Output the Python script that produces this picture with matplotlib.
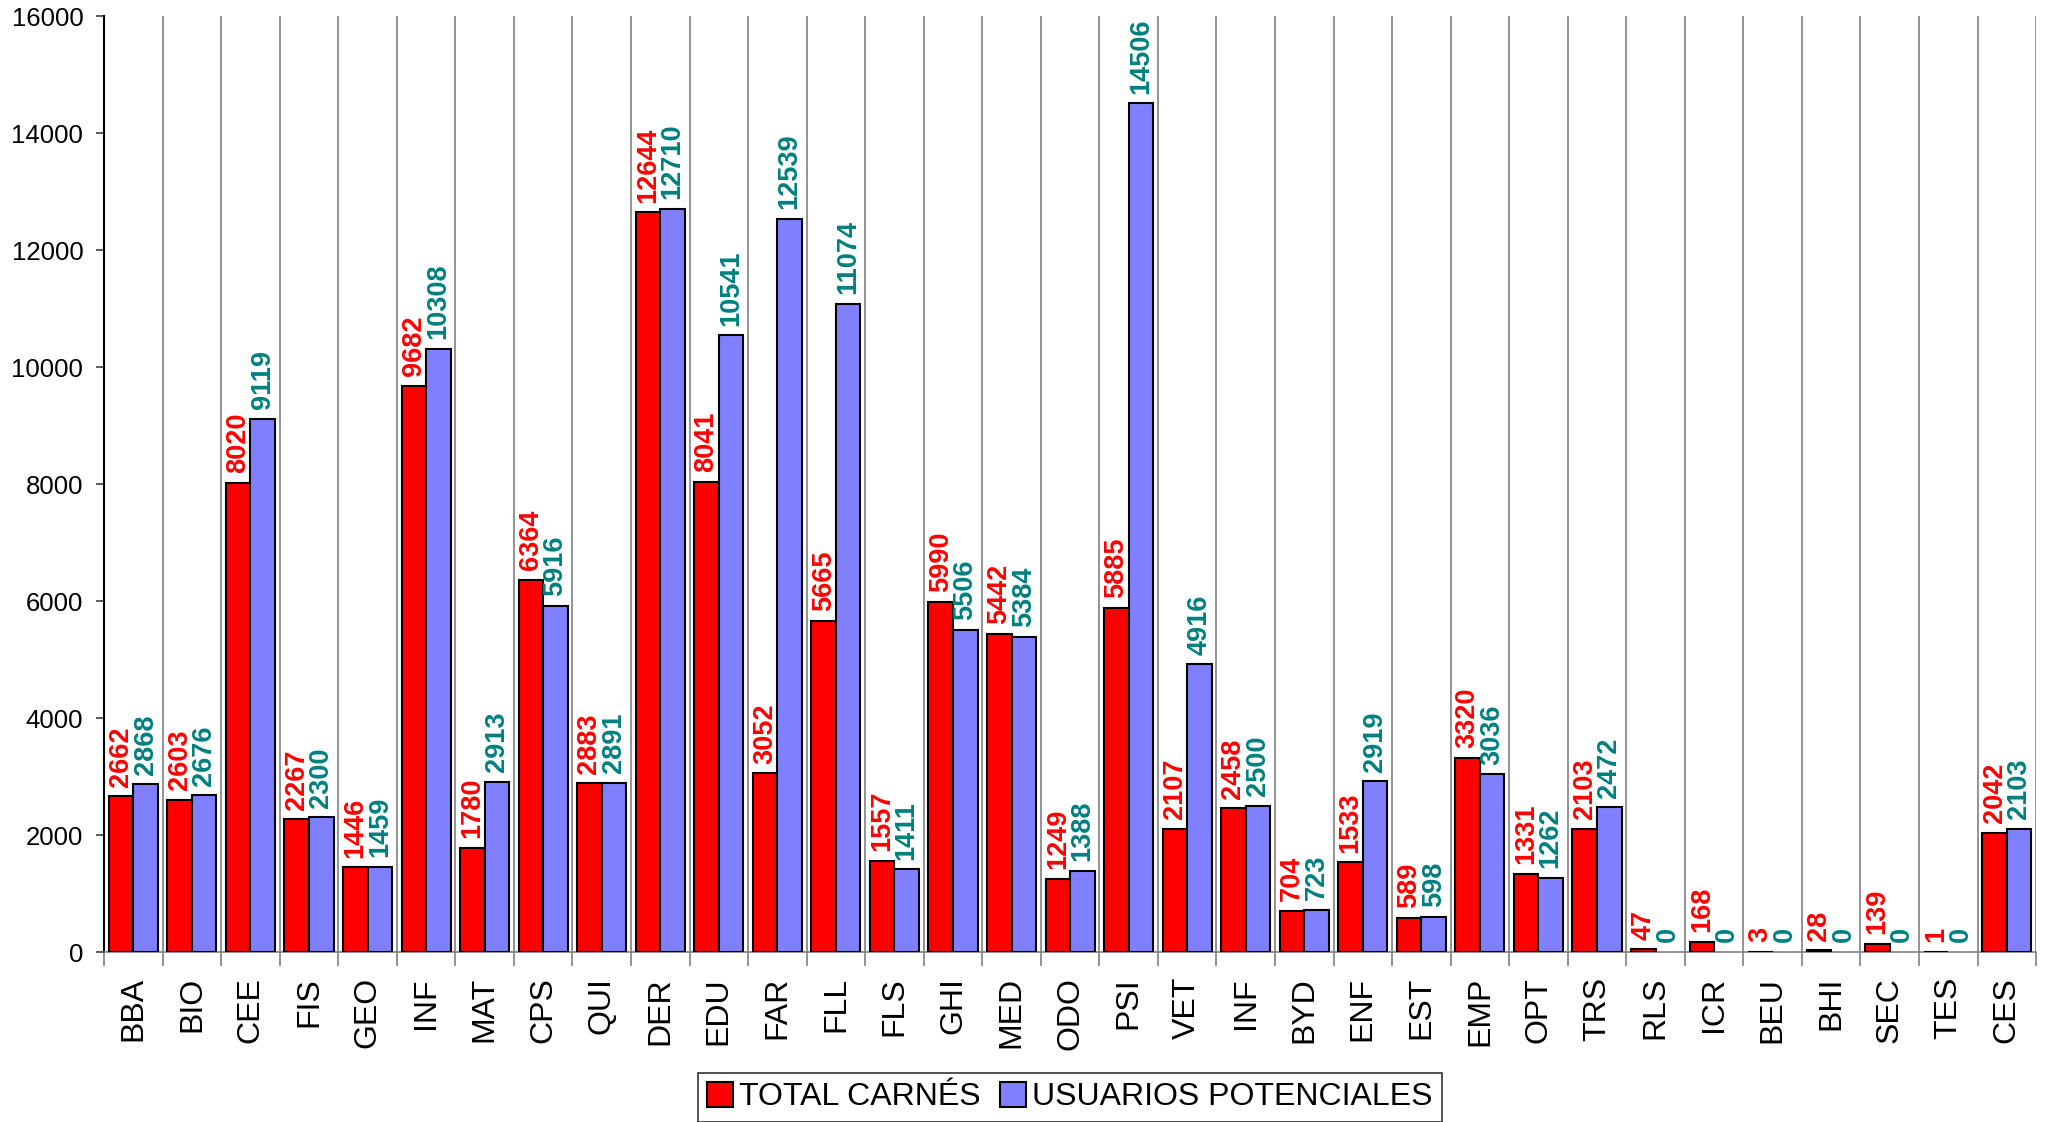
import numpy as np
import matplotlib
matplotlib.use("Agg")
import matplotlib.pyplot as plt

# Carnés frente a usuarios potenciales por centro
centros = ["BBA", "BIO", "CEE", "FIS", "GEO", "INF", "MAT", "CPS", "QUI", "DER",
           "EDU", "FAR", "FLL", "FLS", "GHI", "MED", "ODO", "PSI", "VET", "INF",
           "BYD", "ENF", "EST", "EMP", "OPT", "TRS", "RLS", "ICR", "BEU", "BHI",
           "SEC", "TES", "CES"]
total_carnes = [2662, 2603, 8020, 2267, 1446, 9682, 1780, 6364, 2883, 12644,
                8041, 3052, 5665, 1557, 5990, 5442, 1249, 5885, 2107, 2458,
                704, 1533, 589, 3320, 1331, 2103, 47, 168, 3, 28,
                139, 1, 2042]
usuarios_potenciales = [2868, 2676, 9119, 2300, 1459, 10308, 2913, 5916, 2891, 12710,
                        10541, 12539, 11074, 1411, 5506, 5384, 1388, 14506, 4916, 2500,
                        723, 2919, 598, 3036, 1262, 2472, 0, 0, 0, 0,
                        0, 0, 2103]
y_ticks = list(range(0, 16001, 2000))

plt.rcParams["font.family"] = ["Liberation Sans", "DejaVu Sans"]

fig = plt.figure(figsize=(20.49, 11.22), dpi=100)
ax = fig.add_axes([0.0508, 0.1515, 0.9429, 0.8342])

x = np.arange(len(centros))
w = 0.42
lw1 = [1.5 if v > 0 else 0 for v in total_carnes]
lw2 = [1.5 if v > 0 else 0 for v in usuarios_potenciales]
b1 = ax.bar(x - w / 2, total_carnes, w, color="#FF0000", edgecolor="black",
            linewidth=lw1, label="TOTAL CARNÉS", zorder=3)
b2 = ax.bar(x + w / 2, usuarios_potenciales, w, color="#8080FF", edgecolor="black",
            linewidth=lw2, label="USUARIOS POTENCIALES", zorder=3)

for bars, vals, col in [(b1, total_carnes, "#FF0000"), (b2, usuarios_potenciales, "#008080")]:
    for r, v in zip(bars, vals):
        ax.annotate(str(v), (r.get_x() + r.get_width() / 2, v),
                    xytext=(0, 7), textcoords="offset points",
                    rotation=90, ha="center", va="bottom",
                    fontsize=19.5, fontweight="bold", color=col)

ax.set_xlim(-0.5, len(centros) - 0.5)
ax.set_ylim(0, 16000)
ax.set_yticks(y_ticks)
ax.tick_params(axis="y", labelsize=18.5, length=6, width=1.2, pad=9, color="#404040")

ax.set_xticks(np.arange(len(centros) + 1) - 0.5)
ax.set_xticklabels([])
ax.set_xticks(x, minor=True)
ax.set_xticklabels(centros, minor=True, rotation=90, fontsize=23)
ax.tick_params(axis="x", which="major", length=10, width=1.2, color="#808080")
ax.tick_params(axis="x", which="minor", length=0, pad=18)
ax.grid(axis="x", which="major", color="#808080", linewidth=1.2, zorder=0)

for s in ["top", "right"]:
    ax.spines[s].set_visible(False)
ax.spines["left"].set_linewidth(1.5)
ax.spines["bottom"].set_color("#808080")
ax.spines["bottom"].set_linewidth(1.2)

leg = ax.legend(loc="lower center", bbox_to_anchor=(0.5, -0.1515 / 0.8342 + 0.0),
                bbox_transform=ax.transAxes, ncol=2, fontsize=23, frameon=True,
                fancybox=False, edgecolor="black", handlelength=0.8, handleheight=0.8,
                handletextpad=0.2, columnspacing=0.6, borderpad=0.3, borderaxespad=0)
leg.get_frame().set_linewidth(1.2)

fig.savefig("out.png", dpi=100)
